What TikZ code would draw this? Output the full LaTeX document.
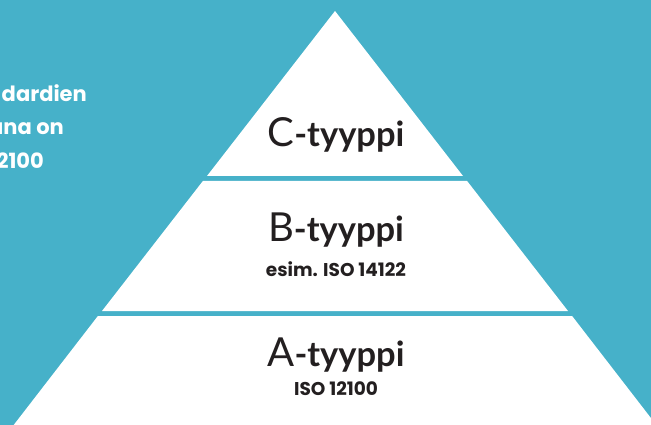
\documentclass[tikz,border=0pt]{standalone}
\usepackage{fontspec}
\setmainfont{Lato}
\newfontfamily\geo{Poppins}
\definecolor{bgblue}{HTML}{46B1C9}
\definecolor{ink}{HTML}{231F20}
\begin{document}
\begin{tikzpicture}[x=1pt,y=-1pt,
  tier/.style={fill=white,draw=none},
  big/.style={font=\fontsize{40}{40}\selectfont,text=ink,inner sep=0pt},
  small/.style={font=\geo\bfseries\fontsize{18.5}{18.5}\selectfont,text=ink,inner sep=0pt},
  side/.style={font=\geo\bfseries\fontsize{21}{21}\selectfont,text=white,inner sep=0pt,anchor=base east}]
\useasboundingbox (0,0) rectangle (651,425);
\clip (0,0) rectangle (651,425);
\fill[bgblue] (0,0) rectangle (651,425);
% tiers (apex 335,11; slope 0.776)
\fill[tier] (335,11) -- (463.0,176) -- (207.0,176) -- cycle;
\fill[tier] (202.9,181) -- (467.1,181) -- (568.0,311) -- (102.0,311) -- cycle;
\fill[tier] (97.9,316) -- (572.1,316) -- (656.3,425) -- (13.7,425) -- cycle;
% labels
\node[big,anchor=base] (c) at (336,146.5) {C\textbf{\fontsize{34.5}{34.5}\selectfont -tyyppi}};
\node[big,anchor=base] (b) at (336,241.5) {B\textbf{\fontsize{34.5}{34.5}\selectfont -tyyppi}};
\node[small,anchor=base] (bs) at (336,276) {esim. ISO 14122};
\node[big,anchor=base] (a) at (336,366) {A\textbf{\fontsize{34.5}{34.5}\selectfont -tyyppi}};
\node[small,anchor=base] (as) at (336,395) {ISO 12100};
% side text
\node[side] (s1) at (87,101.5) {dardien};
\node[side] (s2) at (64,135) {ana on};
\node[side] (s3) at (44,168.5) {2100};
\end{tikzpicture}
\end{document}
